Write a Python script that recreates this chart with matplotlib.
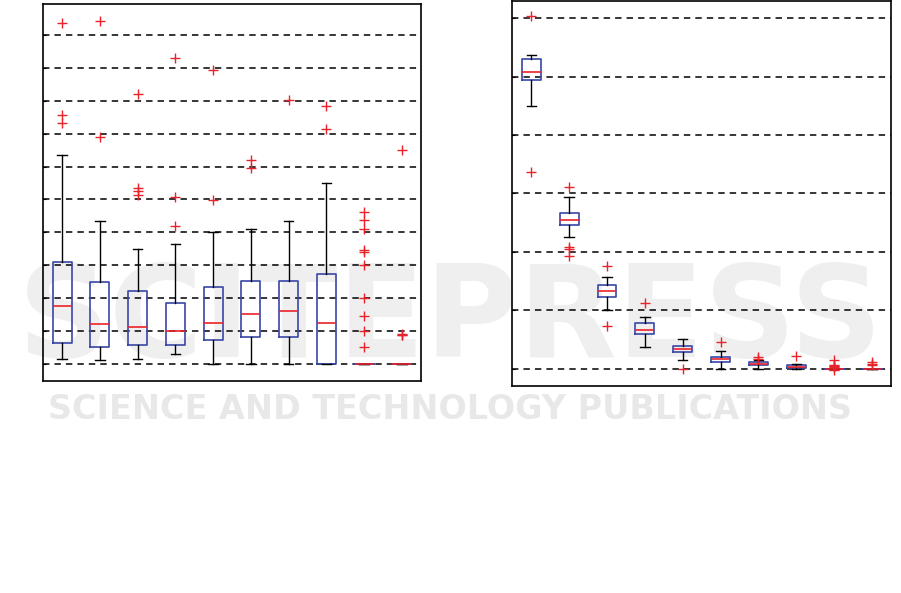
import matplotlib
matplotlib.use("Agg")
import matplotlib.pyplot as plt

# ---------------- data ----------------
left_whislo = [0.14, 0.11, 0.14, 0.29, 0.00, 0.00, 0.00, 0.00, 0.0, 0.0]
left_q1     = [0.63, 0.51, 0.57, 0.57, 0.72, 0.81, 0.81, 0.00, 0.0, 0.0]
left_med    = [1.75, 1.21, 1.12, 0.99, 1.24, 1.51, 1.60, 1.24, 0.0, 0.0]
left_q3     = [3.09, 2.48, 2.21, 1.86, 2.33, 2.51, 2.51, 2.72, 0.0, 0.0]
left_whishi = [6.35, 4.34, 3.49, 3.64, 4.02, 4.11, 4.36, 5.50, 0.0, 0.0]
left_fliers = [
    [10.37, 7.57, 7.32],
    [10.44, 6.89],
    [8.20, 5.35, 5.25, 5.13],
    [9.29, 5.09, 4.19],
    [8.93, 4.98],
    [6.20, 5.97],
    [8.02],
    [7.84, 7.14],
    [4.61, 4.37, 4.10, 3.46, 3.40, 3.00, 2.00, 1.47, 0.99, 0.51],
    [6.51, 0.90, 0.89, 0.88],
]

right_whislo = [4.49, 2.25, 1.01, 0.37, 0.14, 0.000, 0.000, 0.000, 0.0, 0.0]
right_q1     = [4.94, 2.46, 1.22, 0.59, 0.28, 0.120, 0.058, 0.007, 0.0, 0.0]
right_med    = [5.08, 2.54, 1.33, 0.66, 0.33, 0.160, 0.080, 0.034, 0.0, 0.0]
right_q3     = [5.30, 2.66, 1.43, 0.78, 0.38, 0.195, 0.110, 0.058, 0.0, 0.0]
right_whishi = [5.37, 2.93, 1.56, 0.88, 0.50, 0.300, 0.140, 0.075, 0.0, 0.0]
right_fliers = [
    [6.03, 3.37],
    [3.11, 2.09, 2.04, 1.92],
    [1.76, 0.72],
    [1.12],
    [-0.01],
    [0.46],
    [0.195, 0.17],
    [0.21],
    [0.14, 0.06, 0.05, 0.04, 0.03, -0.02],
    [0.12, 0.07, 0.065],
]

left_grid = [0, 1, 2, 3, 4, 5, 6, 7, 8, 9, 10]
right_grid = [0, 1, 2, 3, 4, 5, 6]

# ---------------- style ----------------
BLUE = "#3a46a6"
RED = "#e8232a"

fig = plt.figure(figsize=(9.01, 5.93), dpi=100)

# watermark (behind the axes)
fig.text(0.5, 0.458, "SCITEPRESS", ha="center", va="center", fontsize=92,
         fontweight="bold", color="#efefef", zorder=-5)
fig.text(0.5, 0.309, "SCIENCE AND TECHNOLOGY PUBLICATIONS", ha="center",
         va="center", fontsize=24, fontweight="bold", color="#e8e8e8",
         zorder=-5)


def make_stats(wlo, q1, med, q3, whi, fl):
    return [dict(whislo=a, q1=b, med=c, q3=d, whishi=e, fliers=f)
            for a, b, c, d, e, f in zip(wlo, q1, med, q3, whi, fl)]


def draw(ax, stats, grid, ylim):
    ax.set_facecolor("none")
    for g in grid:
        ax.axhline(g, color="black", lw=1.1, ls=(0, (4.2, 3.3)), zorder=1)
    ax.bxp(stats, positions=range(1, len(stats) + 1), widths=0.5,
           showfliers=True,
           boxprops=dict(color=BLUE, lw=1.2),
           medianprops=dict(color=RED, lw=1.2),
           whiskerprops=dict(color="black", lw=1.0),
           capprops=dict(color="black", lw=1.0),
           flierprops=dict(marker="+", markeredgecolor=RED, markersize=7,
                           markeredgewidth=1.0, linestyle="none"),
           manage_ticks=False)
    ax.set_xlim(0.5, len(stats) + 0.5)
    ax.set_ylim(*ylim)
    ax.set_xticks([])
    ax.set_yticks(grid)
    ax.tick_params(axis="y", direction="in", length=2, labelleft=False)
    for s in ax.spines.values():
        s.set_linewidth(1.2)


axL = fig.add_axes([0.048, 0.3575, 0.419, 0.635])
draw(axL, make_stats(left_whislo, left_q1, left_med, left_q3, left_whishi,
                     left_fliers), left_grid, (-0.52, 10.93))

axR = fig.add_axes([0.5686, 0.349, 0.4203, 0.6498])
draw(axR, make_stats(right_whislo, right_q1, right_med, right_q3,
                     right_whishi, right_fliers), right_grid, (-0.30, 6.30))

fig.savefig("out.png", dpi=100)
